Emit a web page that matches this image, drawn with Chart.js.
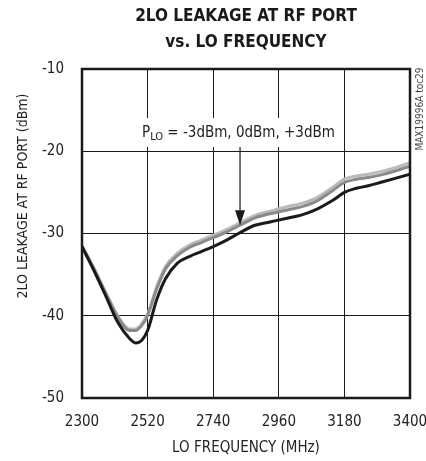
<!DOCTYPE html>
<html>
<head>
<meta charset="utf-8">
<script src="https://cdn.jsdelivr.net/npm/chart.js@4.4.1/dist/chart.umd.min.js"></script>
<style>
  html, body { margin: 0; padding: 0; background: #fff; }
  #wrap { width: 426px; height: 461px; position: relative; }
</style>
</head>
<body>
<div id="wrap"><canvas id="chart"></canvas></div>
<script>
const FONT = "'Liberation Sans Narrow', 'DejaVu Sans Condensed', 'Liberation Sans', sans-serif";

// LO frequency (MHz)
const freq = [2300, 2340, 2380, 2420, 2460, 2480, 2500, 2520, 2550, 2580, 2620, 2660, 2700, 2740,
              2780, 2830, 2880, 2930, 2980, 3040, 3090, 3140, 3180, 3220, 3260, 3300, 3350, 3400];

// 2LO leakage (dBm) for each LO drive level
const leakBlack = [-31.6, -34.5, -37.6, -40.8, -42.8, -43.3, -43.0, -41.8, -38.1, -35.5, -33.6, -32.8, -32.2, -31.6,
                   -30.9, -29.9, -29.0, -28.6, -28.2, -27.7, -27.0, -26.0, -25.0, -24.5, -24.2, -23.8, -23.3, -22.8];
const leakDark  = [-31.5, -34.3, -37.3, -40.2, -41.8, -41.8, -41.2, -40.0, -36.8, -34.3, -32.7, -31.7, -31.1, -30.5,
                   -29.9, -29.0, -28.1, -27.6, -27.2, -26.7, -26.0, -24.8, -23.8, -23.4, -23.2, -22.9, -22.4, -21.8];
const leakLight = [-31.5, -34.2, -37.2, -40.0, -41.6, -41.6, -41.0, -39.8, -36.5, -34.0, -32.4, -31.4, -30.8, -30.2,
                   -29.6, -28.7, -27.8, -27.3, -26.8, -26.3, -25.6, -24.4, -23.4, -23.0, -22.8, -22.5, -22.0, -21.4];

const xTicks = [2300, 2520, 2740, 2960, 3180, 3400];
const yTicks = [-50, -40, -30, -20, -10];

function pts(ys) {
    return freq.map((f, i) => ({ x: f, y: ys[i] }));
}

// titles, frame, annotation + arrow, side label
const extras = {
    id: "extras",
    afterDraw(chart) {
        const ctx = chart.ctx;
        const a = chart.chartArea;
        const xs = chart.scales.x, ys = chart.scales.y;
        ctx.save();

        // frame
        ctx.strokeStyle = "#1a1a1a";
        ctx.lineWidth = 2.5;
        ctx.strokeRect(a.left, a.top, a.right - a.left, a.bottom - a.top);

        // title
        const cx = (a.left + a.right) / 2;
        ctx.fillStyle = "#1a1a1a";
        ctx.textAlign = "center";
        ctx.textBaseline = "middle";
        ctx.font = "bold 17px " + FONT;
        ctx.fillText("2LO LEAKAGE AT RF PORT", cx, 17);
        ctx.fillText("vs. LO FREQUENCY", cx, 43);

        // y axis title
        ctx.save();
        ctx.translate(23, 196);
        ctx.rotate(-Math.PI / 2);
        ctx.fillStyle = "#222";
        ctx.font = "14px " + FONT;
        ctx.fillText("2LO LEAKAGE AT RF PORT (dBm)", 0, 0);
        ctx.restore();

        // annotation box
        ctx.fillStyle = "#fff";
        ctx.fillRect(136, 118, 202, 29);
        ctx.fillStyle = "#222";
        ctx.textAlign = "left";
        ctx.font = "15px " + FONT;
        let x = 142, y = 133;
        ctx.fillText("P", x, y);
        x += ctx.measureText("P").width;
        ctx.font = "11px " + FONT;
        ctx.fillText("LO", x, y + 4);
        x += ctx.measureText("LO").width;
        ctx.font = "15px " + FONT;
        ctx.fillText(" = -3dBm, 0dBm, +3dBm", x, y);

        // arrow
        const ax = xs.getPixelForValue(2830);
        const y0 = 147, y1 = ys.getPixelForValue(-29.0);
        ctx.strokeStyle = "#1a1a1a";
        ctx.lineWidth = 1.2;
        ctx.beginPath();
        ctx.moveTo(ax, y0);
        ctx.lineTo(ax, y1 - 12);
        ctx.stroke();
        ctx.fillStyle = "#1a1a1a";
        ctx.beginPath();
        ctx.moveTo(ax - 5, y1 - 15);
        ctx.lineTo(ax + 5, y1 - 15);
        ctx.lineTo(ax, y1);
        ctx.closePath();
        ctx.fill();

        // side label
        ctx.translate(420, 109);
        ctx.rotate(-Math.PI / 2);
        ctx.fillStyle = "#444";
        ctx.textAlign = "center";
        ctx.font = "10px " + FONT;
        ctx.fillText("MAX19996A toc29", 0, 0);
        ctx.restore();
    }
};

const ctx = document.getElementById("chart").getContext("2d");
new Chart(ctx, {
    type: "line",
    data: {
        datasets: [
            { data: pts(leakBlack), borderColor: "#1a1a1a", borderWidth: 3, pointRadius: 0, tension: 0.4, cubicInterpolationMode: "monotone" },
            { data: pts(leakDark),  borderColor: "#8a8a8a", borderWidth: 3, pointRadius: 0, tension: 0.4, cubicInterpolationMode: "monotone" },
            { data: pts(leakLight), borderColor: "#bababa", borderWidth: 3, pointRadius: 0, tension: 0.4, cubicInterpolationMode: "monotone" }
        ]
    },
    options: {
        responsive: true,
        maintainAspectRatio: false,
        animation: false,
        layout: { padding: { top: 69, left: 8, right: 16, bottom: 0 } },
        plugins: { legend: { display: false }, tooltip: { enabled: false } },
        scales: {
            x: {
                type: "linear",
                min: 2300, max: 3400,
                afterBuildTicks: s => { s.ticks = xTicks.map(v => ({ value: v })); },
                afterFit: s => { s.height = 63; s.paddingLeft = 0; s.paddingRight = 0; },
                grid: { color: "#1a1a1a", lineWidth: 1, drawTicks: false },
                border: { display: false },
                ticks: { color: "#222", font: { family: FONT, size: 15 }, padding: 15, callback: v => String(v), maxRotation: 0 },
                title: { display: true, text: "LO FREQUENCY (MHz)", color: "#222", font: { family: FONT, size: 15 }, padding: { top: 0 } }
            },
            y: {
                min: -50, max: -10,
                afterBuildTicks: s => { s.ticks = yTicks.map(v => ({ value: v })); },
                afterFit: s => { s.width = 74; s.paddingTop = 0; s.paddingBottom = 0; },
                grid: { color: "#1a1a1a", lineWidth: 1, drawTicks: false },
                border: { display: false },
                ticks: { color: "#222", font: { family: FONT, size: 15 }, padding: 18 },
                title: { display: false }
            }
        }
    },
    plugins: [extras]
});
</script>
</body>
</html>
